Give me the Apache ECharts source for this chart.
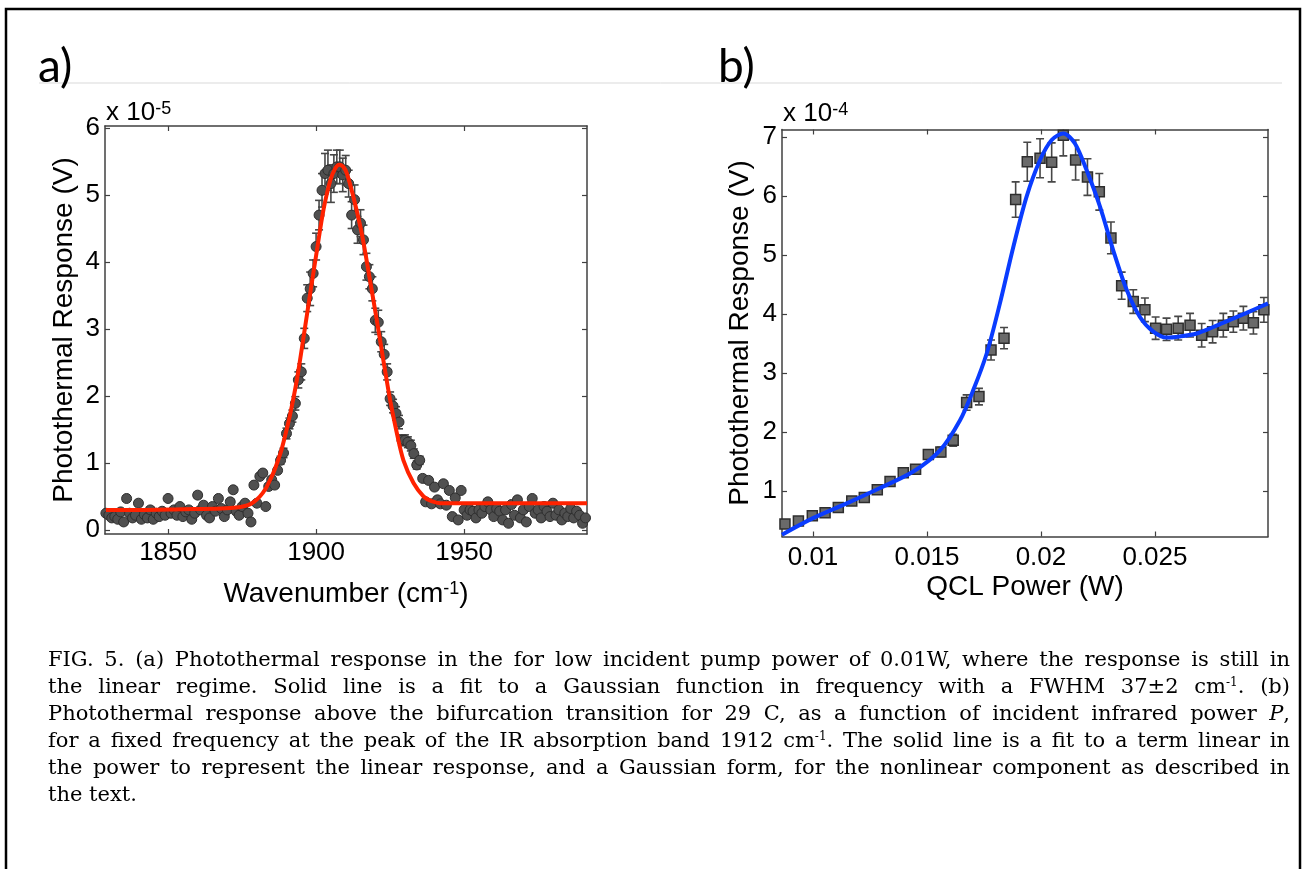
<!DOCTYPE html>
<html>
<head>
<meta charset="utf-8">
<script src="https://cdn.jsdelivr.net/npm/echarts@6.0.0/dist/echarts.min.js"></script>
<style>
  html, body { margin: 0; padding: 0; background: #fff; }
  #main { position: absolute; left: 0; top: 0; width: 1302px; height: 869px; }
  #caption { position: absolute; left: 48px; top: 646px; width: 1242px;
    font-family: 'DejaVu Serif', serif; font-size: 21px; line-height: 27px; color: #000; }
  #caption div { text-align: justify; text-align-last: justify; white-space: nowrap; }
  #caption div.last { text-align-last: left; }
  #caption sup { font-size: 12px; line-height: 0; vertical-align: 7px; }
</style>
</head>
<body>
<div id="main"></div>
<div id="caption">
  <div>FIG. 5. (a) Photothermal response in the for low incident pump power of 0.01W, where the response is still in</div>
  <div>the linear regime. Solid line is a fit to a Gaussian function in frequency with a FWHM 37±2 cm<sup>-1</sup>. (b)</div>
  <div>Photothermal response above the bifurcation transition for 29 C, as a function of incident infrared power <i>P</i>,</div>
  <div>for a fixed frequency at the peak of the IR absorption band 1912 cm<sup>-1</sup>. The solid line is a fit to a term linear in</div>
  <div>the power to represent the linear response, and a Gaussian form, for the nonlinear component as described in</div>
  <div class="last">the text.</div>
</div>
<script>
// panel a: spectrum (values in units of 1e-5 V)
const specX = [1829,1830,1831,1832,1833,1834,1835,1836,1837,1838,1839,1840,1841,1842,1843,1844,1845,1846,1847,1848,1849,
  1850,1851,1852,1853,1854,1855,1856,1857,1858,1859,1860,1861,1862,1863,1864,1865,1866,1867,1868,1869,
  1870,1871,1872,1873,1874,1875,1876,1877,1878,1879,1880,1881,1882,1883,1884,1885,1886,1887,1888,1889,
  1890,1891,1892,1893,1894,1895,1896,1897,1898,1899,1900,1901,1902,1903,1904,1905,1906,1907,1908,1909,
  1910,1911,1912,1913,1914,1915,1916,1917,1918,1919,1920,1921,1922,1923,1924,1925,1926,1927,1928,1929,
  1930,1931,1932,1933,1934,1935,1936,1937,1938,1939,1940,1941,1942,1943,1944,1945,1946,1947,1948,1949,
  1950,1951,1952,1953,1954,1955,1956,1957,1958,1959,1960,1961,1962,1963,1964,1965,1966,1967,1968,1969,
  1970,1971,1972,1973,1974,1975,1976,1977,1978,1979,1980,1981,1982,1983,1984,1985,1986,1987,1988,1989,
  1990,1991];
const specY = [0.25,0.22,0.18,0.20,0.16,0.27,0.12,0.47,0.25,0.18,0.22,0.40,0.16,0.23,0.18,0.30,0.16,0.25,0.20,0.28,0.22,
  0.47,0.25,0.30,0.22,0.35,0.20,0.27,0.30,0.16,0.25,0.52,0.30,0.37,0.22,0.18,0.35,0.28,0.47,0.32,0.20,
  0.30,0.42,0.60,0.28,0.22,0.35,0.40,0.25,0.12,0.67,0.40,0.80,0.85,0.35,0.65,0.75,0.67,0.89,1.04,1.15,
  1.44,1.59,1.70,1.89,2.24,2.36,2.86,3.46,3.60,3.83,4.23,4.70,5.07,5.32,5.37,5.17,5.32,5.42,5.42,5.30,
  5.37,5.17,4.70,4.93,4.48,4.58,4.33,3.93,3.78,3.60,3.13,3.10,2.81,2.62,2.36,1.96,1.85,1.74,1.61,1.34,
  1.34,1.31,1.26,1.14,0.97,1.04,0.77,0.42,0.74,0.39,0.64,0.45,0.39,0.69,0.37,0.59,0.20,0.48,0.15,0.59,
  0.30,0.22,0.30,0.28,0.18,0.30,0.25,0.35,0.42,0.30,0.20,0.32,0.28,0.15,0.30,0.10,0.38,0.22,0.45,0.18,
  0.30,0.12,0.35,0.47,0.25,0.30,0.18,0.35,0.28,0.20,0.40,0.22,0.30,0.15,0.25,0.20,0.32,0.18,0.28,0.22,
  0.10,0.18];
const specErr = [0.04,0.04,0.04,0.04,0.04,0.04,0.04,0.04,0.04,0.04,0.04,0.04,0.04,0.04,0.04,0.04,0.04,0.04,0.04,0.04,0.04,
  0.04,0.04,0.04,0.04,0.04,0.04,0.04,0.04,0.04,0.04,0.04,0.04,0.04,0.04,0.04,0.04,0.04,0.04,0.04,0.04,
  0.04,0.04,0.04,0.04,0.04,0.04,0.04,0.04,0.04,0.04,0.04,0.04,0.04,0.04,0.04,0.04,0.04,0.04,0.06,0.07,
  0.08,0.08,0.09,0.10,0.12,0.12,0.15,0.20,0.25,0.20,0.20,0.22,0.25,0.30,0.30,0.28,0.28,0.25,0.25,0.25,
  0.22,0.20,0.20,0.22,0.20,0.20,0.22,0.20,0.18,0.18,0.18,0.18,0.15,0.15,0.12,0.10,0.10,0.10,0.10,0.08,
  0.08,0.08,0.08,0.07,0.06,0.06,0.04,0.04,0.04,0.04,0.04,0.04,0.04,0.04,0.04,0.04,0.04,0.04,0.04,0.04,
  0.04,0.04,0.04,0.04,0.04,0.04,0.04,0.04,0.04,0.04,0.04,0.04,0.04,0.04,0.04,0.04,0.04,0.04,0.04,0.04,
  0.04,0.04,0.04,0.04,0.04,0.04,0.04,0.04,0.04,0.04,0.04,0.04,0.04,0.04,0.04,0.04,0.04,0.04,0.04,0.04,
  0.04,0.04];
const fitAX = [1829,1840,1855,1868,1874,1877,1879,1881,1883,1884.5,1886,1888,1889.5,1891.3,1893.5,1895.8,1898,1900.3,
  1902.5,1904.8,1906.5,1907.9,1909.2,1910.4,1912.6,1915.4,1918.2,1920.5,1922.7,1925,1927.3,1929.5,1932.9,1936.3,
  1939,1942,1950,1970,1991.5];
const fitAY = [0.30,0.30,0.31,0.32,0.34,0.37,0.42,0.50,0.62,0.75,0.90,1.15,1.40,1.74,2.24,2.89,3.53,4.18,
  4.78,5.22,5.40,5.45,5.42,5.32,4.97,4.43,3.73,3.13,2.54,1.94,1.44,1.04,0.70,0.50,
  0.43,0.40,0.40,0.40,0.40];
const specTicksX = [1850, 1900, 1950];
const specTicksY = [0, 1, 2, 3, 4, 5, 6];

// panel b: power sweep (values in units of 1e-4 V)
const powerX = [0.00877,0.00936,0.00997,0.01053,0.01111,0.0117,0.01225,0.01282,0.01338,0.01396,0.0145,0.01506,
  0.01561,0.01615,0.01674,0.01728,0.01781,0.01838,0.01889,0.0194,0.01996,0.02047,0.02098,0.02152,0.02204,
  0.02256,0.02307,0.02354,0.02405,0.02456,0.02503,0.02551,0.02602,0.02654,0.02705,0.02753,0.028,0.02844,
  0.02888,0.02932,0.02978];
const respY = [0.44,0.49,0.58,0.63,0.72,0.83,0.89,1.02,1.16,1.31,1.37,1.62,1.66,1.86,2.50,2.60,3.39,3.59,5.94,6.58,
  6.64,6.57,7.03,6.61,6.32,6.07,5.29,4.48,4.21,4.07,3.76,3.74,3.76,3.81,3.64,3.70,3.81,3.87,3.93,3.85,4.07];
const respErr = [0.03,0.03,0.03,0.04,0.04,0.04,0.05,0.05,0.05,0.06,0.06,0.08,0.08,0.10,0.13,0.14,0.17,0.18,0.30,0.33,
  0.33,0.33,0.35,0.34,0.31,0.31,0.27,0.23,0.20,0.20,0.19,0.19,0.20,0.20,0.20,0.19,0.20,0.18,0.20,0.19,0.21];
const fitBX = [0.00864,0.0100,0.01148,0.01294,0.0144,0.01557,0.01645,0.01703,0.01762,0.0182,0.01879,0.01937,
  0.01996,0.02047,0.02098,0.02149,0.0220,0.02259,0.02317,0.02376,0.02434,0.02493,0.02551,0.0261,0.02683,
  0.02756,0.02829,0.02902,0.02996];
const fitBY = [0.26,0.54,0.79,1.05,1.33,1.69,2.20,2.71,3.33,4.18,5.14,5.99,6.61,6.95,7.06,6.89,6.44,5.82,5.08,
  4.41,3.95,3.70,3.60,3.62,3.67,3.78,3.90,4.02,4.18];
const powerTicksX = [0.01, 0.015, 0.02, 0.025];
const powerTicksY = [1, 2, 3, 4, 5, 6, 7];

const axisColor = '#404040';
const sans = '"Liberation Sans", Arial, sans-serif';

const chart = echarts.init(document.getElementById('main'));

function boxAxis(gridIndex, min, max, position, ticks, label) {
  return {
    type: 'value', gridIndex, min, max, position,
    axisLine: {show: true, onZero: false, lineStyle: {color: axisColor, width: 1.5}},
    axisTick: {show: true, inside: true, length: 5, customValues: ticks, lineStyle: {color: axisColor, width: 1.2}},
    axisLabel: label ? Object.assign({customValues: ticks, color: '#000', fontSize: 26, fontFamily: sans,
                                      formatter: v => String(v)}, label)
                     : {show: false},
    splitLine: {show: false}
  };
}

function errBar(params, api) {
  const x = api.value(0);
  const lo = api.coord([x, api.value(1)]);
  const hi = api.coord([x, api.value(2)]);
  const w = 4;
  const style = {stroke: '#474747', lineWidth: 1.6};
  return {type: 'group', children: [
    {type: 'line', shape: {x1: lo[0], y1: lo[1], x2: hi[0], y2: hi[1]}, style},
    {type: 'line', shape: {x1: lo[0] - w, y1: lo[1], x2: lo[0] + w, y2: lo[1]}, style},
    {type: 'line', shape: {x1: hi[0] - w, y1: hi[1], x2: hi[0] + w, y2: hi[1]}, style}
  ]};
}

const yTitle = {fontSize: 28, fontFamily: sans, color: '#000'};

chart.setOption({
  animation: false,
  grid: [
    {left: 105, top: 126, width: 482, height: 408},
    {left: 782, top: 129.5, width: 486, height: 407}
  ],
  xAxis: [
    Object.assign(boxAxis(0, 1828.7, 1991.5, 'bottom', specTicksX, {margin: 6}), {
      name: 'Wavenumber (cm{sup|-1})', nameLocation: 'middle', nameGap: 46,
      nameTextStyle: {fontSize: 28, fontFamily: sans, color: '#000',
        rich: {sup: {fontSize: 18, fontFamily: sans, color: '#000', verticalAlign: 'top'}}}
    }),
    boxAxis(0, 1828.7, 1991.5, 'top', specTicksX, null),
    Object.assign(boxAxis(1, 0.00864, 0.02996, 'bottom', powerTicksX, {margin: 8}), {
      name: 'QCL Power (W)', nameLocation: 'middle', nameGap: 37, nameTextStyle: yTitle
    }),
    boxAxis(1, 0.00864, 0.02996, 'top', powerTicksX, null)
  ],
  yAxis: [
    Object.assign(boxAxis(0, -0.06, 6.03, 'left', specTicksY, {margin: 5}), {
      name: 'Photothermal Response (V)', nameLocation: 'middle', nameGap: 27, nameTextStyle: yTitle
    }),
    boxAxis(0, -0.06, 6.03, 'right', specTicksY, null),
    Object.assign(boxAxis(1, 0.229, 7.127, 'left', powerTicksY, {margin: 5}), {
      name: 'Photothermal Response (V)', nameLocation: 'middle', nameGap: 28, nameTextStyle: yTitle
    }),
    boxAxis(1, 0.229, 7.127, 'right', powerTicksY, null)
  ],
  series: [
    {type: 'custom', xAxisIndex: 0, yAxisIndex: 0, clip: true, z: 2, renderItem: errBar,
      data: specX.map((x, i) => [x, specY[i] - specErr[i], specY[i] + specErr[i]])},
    {type: 'scatter', xAxisIndex: 0, yAxisIndex: 0, z: 3, symbol: 'circle', symbolSize: 10,
      itemStyle: {color: '#505050', borderColor: '#2e2e2e', borderWidth: 1, opacity: 1},
      data: specX.map((x, i) => [x, specY[i]])},
    {type: 'line', xAxisIndex: 0, yAxisIndex: 0, z: 4, smooth: 0.3, showSymbol: false, clip: true,
      lineStyle: {color: '#ff2200', width: 4},
      data: fitAX.map((x, i) => [x, fitAY[i]])},
    {type: 'custom', xAxisIndex: 2, yAxisIndex: 2, clip: true, z: 2, renderItem: errBar,
      data: powerX.map((x, i) => [x, respY[i] - respErr[i], respY[i] + respErr[i]])},
    {type: 'scatter', xAxisIndex: 2, yAxisIndex: 2, z: 3, symbol: 'rect', symbolSize: 10,
      itemStyle: {color: '#6a6a6a', borderColor: '#2e2e2e', borderWidth: 1.5, opacity: 1},
      data: powerX.map((x, i) => [x, respY[i]])},
    {type: 'line', xAxisIndex: 2, yAxisIndex: 2, z: 4, smooth: 0.3, showSymbol: false, clip: true,
      lineStyle: {color: '#0a3cff', width: 4},
      data: fitBX.map((x, i) => [x, fitBY[i]])}
  ],
  graphic: [
    {type: 'rect', silent: true, shape: {x: 6, y: 9, width: 1294, height: 900},
      style: {fill: 'none', stroke: '#000', lineWidth: 2.5}},
    {type: 'line', silent: true, shape: {x1: 39, y1: 83, x2: 1282, y2: 83},
      style: {stroke: '#d9d9d9', lineWidth: 1}},
    {type: 'text', x: 38, y: 44, style: {text: 'a)', font: '46px Lato, "Open Sans", sans-serif', fill: '#000'}},
    {type: 'text', x: 718, y: 44, style: {text: 'b)', font: '46px Lato, "Open Sans", sans-serif', fill: '#000'}},
    {type: 'text', x: 106, y: 100, style: {text: '{a|x 10}{s|-5}', fill: '#000',
      rich: {a: {fontSize: 26, fontFamily: sans, verticalAlign: 'bottom'},
             s: {fontSize: 18, fontFamily: sans, verticalAlign: 'top'}}}},
    {type: 'text', x: 783, y: 101, style: {text: '{a|x 10}{s|-4}', fill: '#000',
      rich: {a: {fontSize: 26, fontFamily: sans, verticalAlign: 'bottom'},
             s: {fontSize: 18, fontFamily: sans, verticalAlign: 'top'}}}}
  ]
});
</script>
</body>
</html>
